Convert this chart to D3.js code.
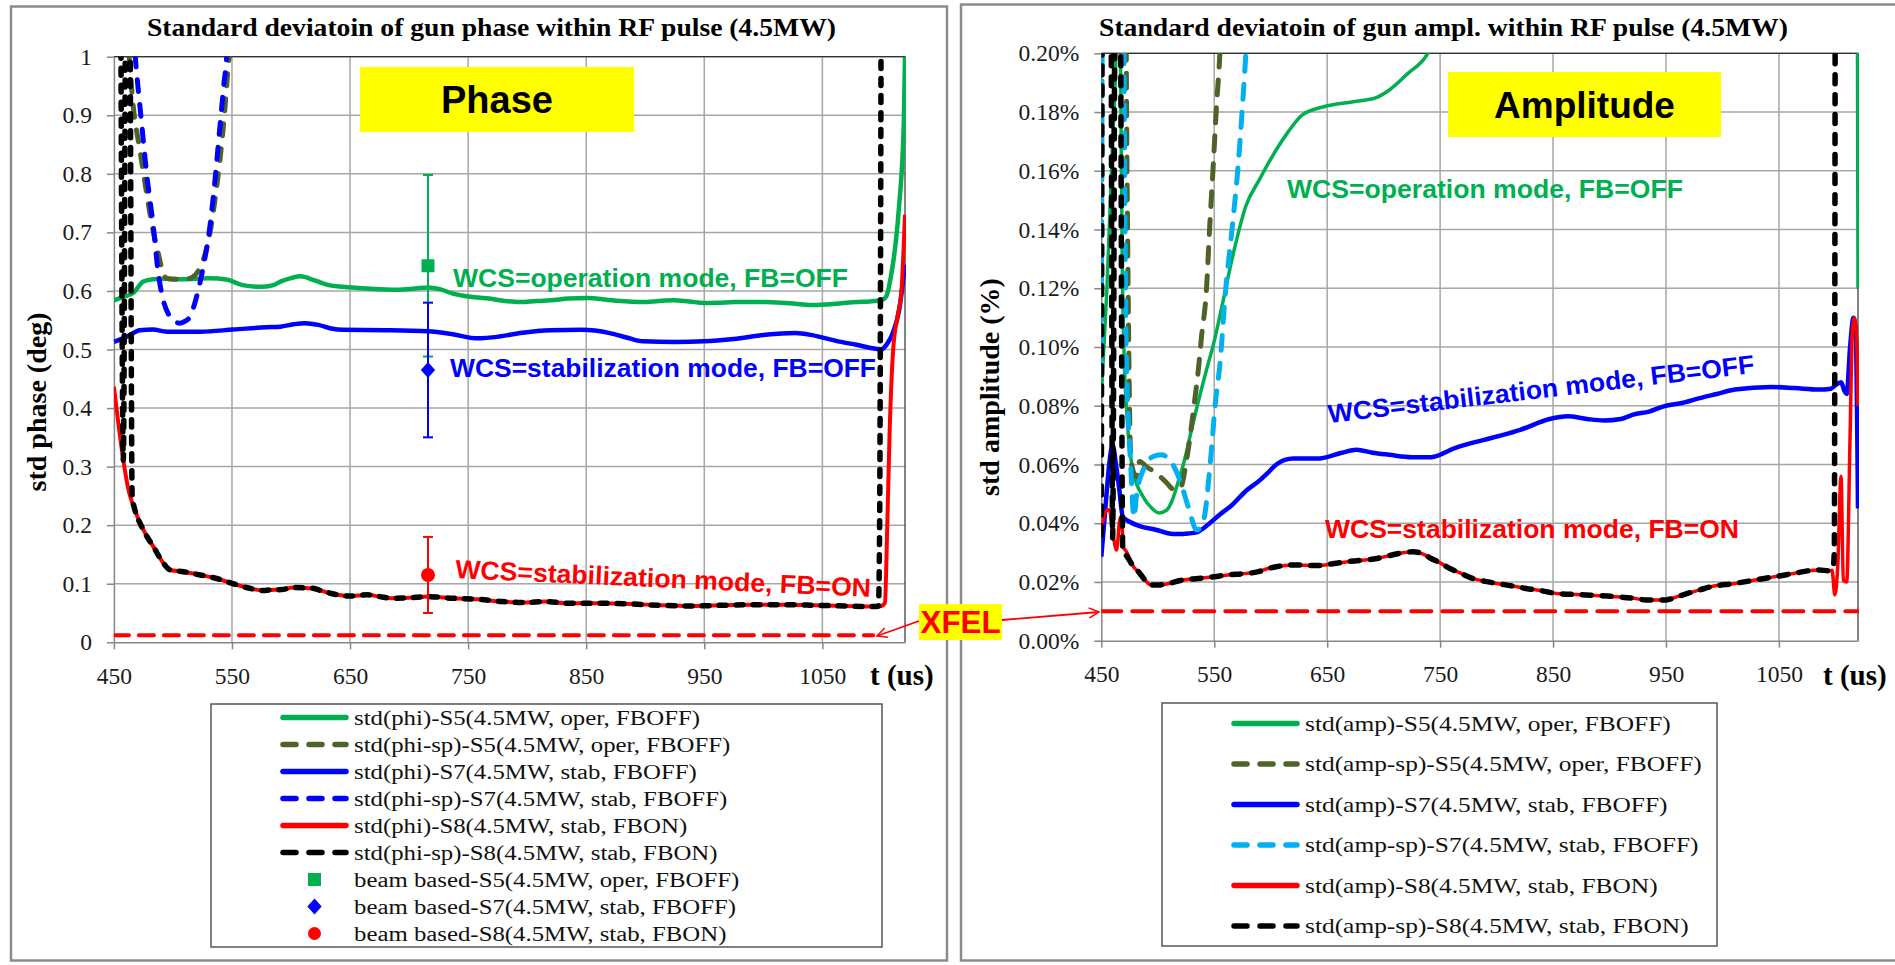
<!DOCTYPE html>
<html><head><meta charset="utf-8">
<script src="https://cdn.jsdelivr.net/npm/d3@7"></script>
<style>body{margin:0;background:#fff}svg{display:block}</style>
</head><body><svg id="c" width="1895" height="965"></svg>
<script>
// ---------------- DATA ----------------
const tTicks = [450, 550, 650, 750, 850, 950, 1050];
const tTickLabels = ["450", "550", "650", "750", "850", "950", "1050"];
const tDomain = [450, 1120];
const phaseTicks = [0, 0.1, 0.2, 0.3, 0.4, 0.5, 0.6, 0.7, 0.8, 0.9, 1];
const phaseTickLabels = ["0", "0.1", "0.2", "0.3", "0.4", "0.5", "0.6", "0.7", "0.8", "0.9", "1"];
const ampTicks = [0, 0.02, 0.04, 0.06, 0.08, 0.10, 0.12, 0.14, 0.16, 0.18, 0.20];
const ampTickLabels = ["0.00%", "0.02%", "0.04%", "0.06%", "0.08%", "0.10%", "0.12%", "0.14%", "0.16%", "0.18%", "0.20%"];

// phase (deg): [t(us), std]
const phiS5 = [[450,0.584],[458,0.59],[466,0.596],[475,0.616],[483,0.62],[495,0.621],[509,0.62],[520,0.621],[531,0.6215],[545,0.6195],[559,0.61],[574,0.607],[585,0.61],[591,0.616],[600,0.622],[608,0.625],[620,0.618],[632,0.61],[644,0.607],[665,0.604],[690,0.602],[705,0.604],[716,0.606],[726,0.603],[737,0.5955],[752,0.59],[768,0.587],[781,0.583],[794,0.581],[808,0.583],[820,0.584],[835,0.587],[851,0.588],[872,0.584],[898,0.581],[912,0.583],[924,0.584],[937,0.582],[950,0.5795],[962,0.58],[976,0.581],[1001,0.581],[1015,0.58],[1027,0.578],[1040,0.576],[1053,0.577],[1066,0.579],[1079,0.581],[1090,0.582],[1100,0.584],[1104,0.59],[1108.5,0.63],[1112,0.68],[1115,0.745],[1119,0.887],[1120,1.0]];
const phiSpS5 = [[450,1.3],[461,1.05],[466.4,0.915],[472,0.8407],[476,0.789],[482,0.7155],[487.6,0.664],[491.8,0.63],[494.6,0.6215],[500,0.62],[508.7,0.62],[515,0.622],[520,0.63],[525.7,0.653],[531.3,0.6984],[535.6,0.7553],[539.8,0.8236],[543.2,0.8919],[546.8,0.983],[550,1.05],[555,1.3]];
const phiS7 = [[450,0.513],[461,0.522],[472,0.533],[483,0.534],[495,0.5305],[523,0.5305],[551,0.534],[579,0.538],[591,0.539],[602,0.543],[612,0.545],[623,0.542],[634,0.536],[644,0.5336],[680,0.533],[716,0.531],[737,0.526],[758,0.519],[776,0.522],[794,0.528],[820,0.533],[846,0.5336],[870,0.528],[885,0.52],[898,0.514],[925,0.513],[950,0.514],[975,0.518],[1001.5,0.525],[1027,0.528],[1040,0.525],[1053,0.519],[1066,0.513],[1079,0.508],[1090,0.503],[1100,0.5005],[1105,0.51],[1110,0.53],[1115,0.567],[1120,0.645]];
const phiSpS7 = [[450,1.3],[466,1.05],[469.3,0.9716],[473.5,0.886],[477.7,0.801],[483.4,0.7097],[487.6,0.63],[491.8,0.5845],[497.5,0.556],[502,0.547],[506,0.545],[510,0.548],[514.4,0.556],[520,0.59],[525.7,0.6414],[531.3,0.7097],[535.6,0.789],[539.8,0.8805],[543.2,0.9546],[545.5,1.0],[550,1.3]];
const phiS8Core = [[509,0.1206],[523,0.115],[537,0.109],[551,0.1],[565,0.0922],[576,0.0885],[582,0.0894],[592,0.09],[602,0.0934],[610,0.093],[618,0.0922],[626,0.088],[633.5,0.0837],[649,0.079],[657,0.08],[664.6,0.081],[675,0.078],[685,0.0752],[700,0.076],[716,0.078],[737,0.0752],[758,0.0735],[778.6,0.0695],[799,0.0678],[815,0.0695],[835.6,0.0666],[861.5,0.0666],[887.5,0.0655],[913,0.0632],[939,0.062],[965,0.0632],[991,0.0643],[1017,0.0643],[1043,0.0632],[1069,0.062],[1089.6,0.061],[1096,0.061]];
const phiS8Start = [[450,0.4365],[454,0.37],[458,0.311],[462.4,0.26],[466.7,0.2316],[475,0.1918],[483.5,0.163],[492,0.135],[497.7,0.1235]];
const phiS8End = [[1100,0.062],[1103,0.067],[1105,0.2],[1107,0.36],[1110,0.5],[1114,0.56],[1117,0.6],[1120,0.73]];
const phiSpS8Start = [[455.5,1.3],[458,0.311],[460.5,1.3],[463,1.3],[465.5,0.245],[467,0.232],[475,0.1918],[483.5,0.163],[492,0.135],[497.7,0.1235]];
const phiSpS8End = [[1097.5,0.062],[1098.5,0.2],[1100,1.3]];
const phiS8 = phiS8Start.concat(phiS8Core, phiS8End);
const phiSpS8 = phiSpS8Start.concat(phiS8Core, phiSpS8End);
const xfelPhase = [[450,0.012],[1093,0.012]];

// beam based: t, value, error
const beamT = 716;
const beamVals = [0.643, 0.465, 0.115];
const beamErr = [0.155, 0.115, 0.065];

// amplitude (%): [t(us), std]
const ampS5 = [[450,0.083],[455,0.12],[460,0.17],[463,0.2],[465,0.25],[467,0.2],[468.5,0.13],[470,0.1],[473,0.075],[478,0.058],[487,0.049],[495,0.045],[501,0.0435],[508,0.0445],[513,0.048],[518,0.054],[523,0.0605],[530,0.072],[535,0.08],[543,0.092],[550,0.102],[558,0.116],[567,0.132],[578,0.148],[590,0.157],[600,0.164],[615,0.173],[628,0.179],[647,0.1818],[673,0.1835],[694,0.185],[705,0.1875],[721,0.193],[739,0.2],[750,0.21],[1119,0.3],[1120,0.12]];
const ampSpS5 = [[450,0.3],[470,0.3],[473,0.15],[476,0.063],[478,0.058],[481,0.0558],[484,0.061],[490,0.0592],[499,0.057],[508,0.0537],[515,0.0513],[520,0.052],[526,0.0627],[532,0.0797],[536.5,0.0944],[538.6,0.103],[543,0.119],[546,0.141],[549,0.161],[552,0.182],[555,0.2],[558,0.23],[565,0.3]];
const ampS7 = [[450,0.0286],[454,0.047],[457,0.06],[460,0.0667],[463,0.06],[466,0.0513],[469,0.0422],[475,0.0405],[484,0.039],[499,0.0377],[510,0.0365],[517,0.0363],[527,0.0365],[535,0.037],[546,0.04],[555,0.043],[564,0.0456],[579,0.0513],[590,0.0545],[597,0.057],[605,0.06],[620,0.062],[641,0.062],[663,0.064],[676,0.065],[690,0.064],[705,0.0633],[725,0.0625],[742,0.0625],[763,0.0656],[789,0.0684],[805,0.07],[821,0.0718],[847,0.0755],[863,0.0764],[880,0.0755],[895,0.075],[910,0.0755],[921,0.077],[935,0.078],[948,0.0798],[965,0.081],[980,0.0826],[995,0.084],[1011,0.0855],[1043,0.0864],[1064,0.086],[1085,0.0855],[1096,0.0858],[1100,0.087],[1105,0.088],[1108,0.085],[1110,0.084],[1113,0.1],[1116,0.11],[1118,0.105],[1120,0.045]];
const ampSpS7 = [[450,0.09],[452,0.3],[468,0.3],[472,0.1],[476,0.06],[479,0.042],[481,0.049],[487,0.058],[496,0.0627],[503,0.0633],[512.5,0.0605],[519.5,0.0547],[527,0.0456],[534.5,0.0377],[540.5,0.041],[546.5,0.0605],[551,0.081],[555,0.094],[560,0.119],[566,0.141],[571,0.161],[575,0.182],[578,0.2],[582,0.23]];
const ampS8Core = [[478,0.0255],[484,0.023],[489,0.0205],[494,0.019],[500,0.019],[510,0.0195],[520,0.0205],[536,0.0212],[550,0.0218],[562,0.0224],[575,0.0228],[589,0.0235],[597,0.0245],[605,0.0252],[620,0.0258],[642,0.0256],[655,0.0262],[668,0.0269],[694,0.028],[715,0.0298],[726,0.0303],[735,0.0295],[742,0.028],[750,0.0265],[758,0.0247],[768,0.023],[779,0.0212],[790,0.0202],[800,0.0195],[813,0.0187],[826,0.0178],[840,0.017],[853,0.0161],[879,0.0156],[905,0.015],[920,0.0145],[932,0.0139],[950,0.0139],[960,0.015],[969,0.0161],[980,0.0173],[990,0.0184],[1011,0.0195],[1025,0.0204],[1037,0.0212],[1050,0.022],[1064,0.023],[1085,0.0241],[1095,0.0238]];
const ampS8Start = [[450,0.0377],[454,0.044],[457,0.0446],[460.7,0.0354],[463.5,0.0309],[466.3,0.041],[468,0.0423],[469.4,0.032],[472,0.0305],[475,0.028]];
const ampS8End = [[1097,0.024],[1099.5,0.0156],[1102,0.025],[1105,0.056],[1107,0.0206],[1110,0.02],[1113,0.07],[1115,0.105],[1117,0.11],[1119,0.1],[1120,0.08]];
const ampSpS8Start = [[450,0.036],[451.5,0.3],[458,0.3],[460,0.035],[463,0.3],[466,0.3],[469,0.031],[473,0.0286]];
const ampSpS8End = [[1098,0.025],[1099,0.03],[1100,0.3]];
const ampS8 = ampS8Start.concat(ampS8Core, ampS8End);
const ampSpS8 = ampSpS8Start.concat(ampS8Core, ampSpS8End);
const xfelAmp = [[450,0.01],[1120,0.01]];

const phaseLegend = ["std(phi)-S5(4.5MW, oper, FBOFF)", "std(phi-sp)-S5(4.5MW, oper, FBOFF)", "std(phi)-S7(4.5MW, stab, FBOFF)", "std(phi-sp)-S7(4.5MW, stab, FBOFF)", "std(phi)-S8(4.5MW, stab, FBON)", "std(phi-sp)-S8(4.5MW, stab, FBON)", "beam based-S5(4.5MW, oper, FBOFF)", "beam based-S7(4.5MW, stab, FBOFF)", "beam based-S8(4.5MW, stab, FBON)"];
const ampLegend = ["std(amp)-S5(4.5MW, oper, FBOFF)", "std(amp-sp)-S5(4.5MW, oper, FBOFF)", "std(amp)-S7(4.5MW, stab, FBOFF)", "std(amp-sp)-S7(4.5MW, stab, FBOFF)", "std(amp)-S8(4.5MW, stab, FBON)", "std(amp-sp)-S8(4.5MW, stab, FBON)"];

// ---------------- STYLE ----------------
const GREEN = "#00b050", OLIVE = "#4f6228", BLUE = "#0000ff", LBLUE = "#00b0f0", RED = "#ff0000", BLACK = "#000000";
const SERIF = "'Liberation Serif','Times New Roman',serif";
const SANS = "'Liberation Sans',Arial,sans-serif";

const svg = d3.select("#c");

// panel borders
svg.append("rect").attr("x", 11).attr("y", 6.5).attr("width", 936).attr("height", 954)
  .attr("fill", "#fff").attr("stroke", "#8c8c8c").attr("stroke-width", 2.5);
svg.append("rect").attr("x", 961).attr("y", 4.5).attr("width", 940).attr("height", 956)
  .attr("fill", "#fff").attr("stroke", "#8c8c8c").attr("stroke-width", 2.5);

function drawPanel(o) {
  const g = svg.append("g");
  const x = d3.scaleLinear().domain(tDomain).range([o.x0, o.x1]);
  const y = d3.scaleLinear().domain([o.ticks[0], o.ticks[o.ticks.length - 1]]).range([o.yb, o.yt]);
  // gridlines
  g.append("g").selectAll("line").data(o.ticks.slice(1)).join("line")
    .attr("x1", o.x0).attr("x2", o.x1).attr("y1", d => y(d)).attr("y2", d => y(d))
    .attr("stroke", "#a6a6a6").attr("stroke-width", 1.5);
  g.append("g").selectAll("line").data(tTicks.slice(1)).join("line")
    .attr("x1", d => x(d)).attr("x2", d => x(d)).attr("y1", o.yt).attr("y2", o.yb)
    .attr("stroke", "#a6a6a6").attr("stroke-width", 1.5);
  // plot frame top/right
  g.append("path").attr("d", `M${o.x0},${o.yt}H${o.x1}V${o.yb}`).attr("fill", "none")
    .attr("stroke", "#333").attr("stroke-width", 1.2);
  // axes
  const ay = g.append("g").attr("transform", `translate(${o.x0},0)`)
    .call(d3.axisLeft(y).tickValues(o.ticks).tickFormat((d, i) => o.labels[i]).tickSize(7).tickPadding(15).tickSizeOuter(0));
  const ax = g.append("g").attr("transform", `translate(0,${o.yb})`)
    .call(d3.axisBottom(x).tickValues(tTicks).tickFormat((d, i) => tTickLabels[i]).tickSize(7).tickPadding(18).tickSizeOuter(0));
  [ay, ax].forEach(a => {
    a.select(".domain").attr("stroke", "#868686").attr("stroke-width", 1.5);
    a.selectAll(".tick line").attr("stroke", "#868686").attr("stroke-width", 1.5);
    a.selectAll("text").attr("font-family", SERIF).attr("font-size", 23.5).attr("fill", "#1a1a1a");
  });
  // yellow box
  g.append("rect").attr("x", o.box[0]).attr("y", o.box[1]).attr("width", o.box[2]).attr("height", o.box[3]).attr("fill", "#ffff00");
  g.append("text").attr("x", o.box[0] + o.box[2] / 2).attr("y", o.boxTextY).attr("text-anchor", "middle")
    .attr("font-family", SANS).attr("font-weight", "bold").attr("font-size", o.boxFont).text(o.boxText);
  // clip
  const cid = "clip" + o.id;
  svg.append("defs").append("clipPath").attr("id", cid).append("rect")
    .attr("x", o.x0).attr("y", o.yt).attr("width", o.x1 - o.x0 + 1).attr("height", o.yb - o.yt);
  const lg = g.append("g").attr("clip-path", `url(#${cid})`);
  const line = d3.line().x(d => x(d[0])).y(d => y(d[1])).curve(d3.curveMonotoneX);
  o.series.forEach(s => {
    lg.append("path").attr("d", line(s.data)).attr("fill", "none").attr("stroke", s.color)
      .attr("stroke-width", s.w).attr("stroke-dasharray", s.dash || null)
      .attr("stroke-linecap", s.dash ? "round" : "butt").attr("stroke-linejoin", "round");
  });
  // titles
  g.append("text").attr("x", o.titleX).attr("y", 36).attr("font-family", SERIF).attr("font-weight", "bold")
    .attr("font-size", 25).attr("textLength", 689).attr("lengthAdjust", "spacingAndGlyphs").text(o.title);
  g.append("text").attr("transform", `translate(${o.yTitleX},${o.yTitleY}) rotate(-90)`).attr("text-anchor", "middle")
    .attr("font-family", SERIF).attr("font-weight", "bold").attr("font-size", 28).text(o.yTitle);
  g.append("text").attr("x", o.tX).attr("y", 685).attr("font-family", SERIF).attr("font-weight", "bold")
    .attr("font-size", 29).text("t (us)");
  // annotations
  o.notes.forEach(n => {
    g.append("text").attr("transform", `translate(${n.x},${n.y}) rotate(${n.rot || 0})`)
      .attr("font-family", SANS).attr("font-weight", "bold").attr("font-size", 26).attr("fill", n.color)
      .attr("textLength", n.len).attr("lengthAdjust", "spacingAndGlyphs").text(n.text);
  });
  return {g, x, y, lg};
}

const P = drawPanel({
  id: "P", x0: 113.9, x1: 905, yt: 56.7, yb: 642.3, ticks: phaseTicks, labels: phaseTickLabels,
  box: [360, 67, 274, 65], boxText: "Phase", boxFont: 38, boxTextY: 113,
  title: "Standard deviatoin of gun phase within RF pulse (4.5MW)", titleX: 147,
  yTitle: "std phase (deg)", yTitleX: 46, yTitleY: 402, tX: 870,
  series: [
    {data: xfelPhase, color: RED, w: 4, dash: "15,10"},
    {data: phiS5, color: GREEN, w: 4.5},
    {data: phiS7, color: BLUE, w: 4.5},
    {data: phiSpS5, color: OLIVE, w: 5, dash: "12,13"},
    {data: phiSpS7, color: BLUE, w: 5, dash: "12,13"},
    {data: phiS8, color: RED, w: 4},
    {data: phiSpS8, color: BLACK, w: 5.5, dash: "7,10"}
  ],
  notes: [
    {text: "WCS=operation mode, FB=OFF", x: 453, y: 287, len: 395, color: GREEN},
    {text: "WCS=stabilization mode, FB=OFF", x: 450, y: 377, len: 426, color: BLUE},
    {text: "WCS=stabilization mode, FB=ON", x: 455, y: 578, len: 416, color: RED, rot: 2.6}
  ]
});

const A = drawPanel({
  id: "A", x0: 1101.3, x1: 1858, yt: 53.3, yb: 640.7, ticks: ampTicks, labels: ampTickLabels,
  box: [1448, 72, 273, 65], boxText: "Amplitude", boxFont: 37, boxTextY: 118,
  title: "Standard deviatoin of gun ampl. within RF pulse (4.5MW)", titleX: 1099,
  yTitle: "std amplitude (%)", yTitleX: 999, yTitleY: 387, tX: 1823,
  series: [
    {data: xfelAmp, color: RED, w: 4, dash: "20,11"},
    {data: ampS5, color: GREEN, w: 3.5},
    {data: ampS7, color: BLUE, w: 4.5},
    {data: ampSpS5, color: OLIVE, w: 5, dash: "15,13"},
    {data: ampSpS7, color: LBLUE, w: 5, dash: "15,13"},
    {data: ampS8, color: RED, w: 3.5},
    {data: ampSpS8, color: BLACK, w: 5.5, dash: "9,11"}
  ],
  notes: [
    {text: "WCS=operation mode, FB=OFF", x: 1287, y: 198, len: 396, color: GREEN},
    {text: "WCS=stabilization mode, FB=OFF", x: 1329, y: 423, len: 429, color: BLUE, rot: -6.7},
    {text: "WCS=stabilization mode, FB=ON", x: 1325, y: 538, len: 414, color: RED}
  ]
});

// beam based points with error bars
const beamColors = [GREEN, BLUE, RED];
const beamShapes = ["square", "diamond", "circle"];
function marker(g, shape, cx, cy, color, s) {
  if (shape === "square") g.append("rect").attr("x", cx - s / 2).attr("y", cy - s / 2).attr("width", s).attr("height", s).attr("fill", color);
  else if (shape === "diamond") g.append("path").attr("d", `M${cx},${cy - s * 0.62}L${cx + s * 0.55},${cy}L${cx},${cy + s * 0.62}L${cx - s * 0.55},${cy}Z`).attr("fill", color);
  else g.append("circle").attr("cx", cx).attr("cy", cy).attr("r", s / 2).attr("fill", color);
}
beamVals.forEach((v, i) => {
  const cx = P.x(beamT);
  const y1 = P.y(v + beamErr[i]), y2 = P.y(v - beamErr[i]);
  P.g.append("line").attr("x1", cx).attr("x2", cx).attr("y1", y1).attr("y2", y2).attr("stroke", beamColors[i]).attr("stroke-width", 2);
  [y1, y2].forEach(yy => P.g.append("line").attr("x1", cx - 5).attr("x2", cx + 5).attr("y1", yy).attr("y2", yy).attr("stroke", beamColors[i]).attr("stroke-width", 2));
});
beamVals.forEach((v, i) => marker(P.g, beamShapes[i], P.x(beamT), P.y(v), beamColors[i], i === 2 ? 14 : 13));

// XFEL label and arrows
svg.append("defs").append("marker").attr("id", "arr").attr("viewBox", "0 0 12 12").attr("refX", 11).attr("refY", 6)
  .attr("markerWidth", 12).attr("markerHeight", 12).attr("markerUnits", "userSpaceOnUse").attr("orient", "auto")
  .append("path").attr("d", "M1,1L11,6L1,11").attr("fill", "none").attr("stroke", RED).attr("stroke-width", 1.5);
svg.append("line").attr("x1", 919).attr("y1", 621).attr("x2", 877).attr("y2", 636).attr("stroke", RED).attr("stroke-width", 1.8).attr("marker-end", "url(#arr)");
svg.append("line").attr("x1", 1002).attr("y1", 620).attr("x2", 1099).attr("y2", 612).attr("stroke", RED).attr("stroke-width", 1.8).attr("marker-end", "url(#arr)");
svg.append("rect").attr("x", 919).attr("y", 604).attr("width", 83).attr("height", 36).attr("fill", "#ffff00");
svg.append("text").attr("x", 960.5).attr("y", 633).attr("text-anchor", "middle").attr("font-family", SANS)
  .attr("font-weight", "bold").attr("font-size", 32).attr("fill", RED).attr("textLength", 80).attr("lengthAdjust", "spacingAndGlyphs").text("XFEL");

// legends
function legend(o) {
  const g = svg.append("g");
  g.append("rect").attr("x", o.x).attr("y", o.y).attr("width", o.w).attr("height", o.h)
    .attr("fill", "#fff").attr("stroke", "#555").attr("stroke-width", 1.5);
  o.items.forEach((it, i) => {
    const cy = o.row0 + i * o.step;
    if (it.shape) marker(g, it.shape, (o.lx0 + o.lx1) / 2, cy, it.color, 13);
    else g.append("line").attr("x1", o.lx0).attr("x2", o.lx1).attr("y1", cy).attr("y2", cy)
      .attr("stroke", it.color).attr("stroke-width", 5.5).attr("stroke-linecap", "round")
      .attr("stroke-dasharray", it.dash ? "13,13" : null);
    g.append("text").attr("transform", `translate(${o.tx},${cy + 7}) scale(${o.sx},1)`)
      .attr("font-family", SERIF).attr("font-size", 20.5).attr("fill", "#111").text(o.labels[i]);
  });
}
legend({x: 211, y: 704, w: 671, h: 243, row0: 717.5, step: 27, lx0: 283, lx1: 346, tx: 354, sx: 1.21, labels: phaseLegend,
  items: [{color: GREEN}, {color: OLIVE, dash: 1}, {color: BLUE}, {color: BLUE, dash: 1}, {color: RED}, {color: BLACK, dash: 1},
          {color: GREEN, shape: "square"}, {color: BLUE, shape: "diamond"}, {color: RED, shape: "circle"}]});
legend({x: 1162, y: 703, w: 555, h: 243, row0: 723.5, step: 40.5, lx0: 1234, lx1: 1297, tx: 1305, sx: 1.24, labels: ampLegend,
  items: [{color: GREEN}, {color: OLIVE, dash: 1}, {color: BLUE}, {color: LBLUE, dash: 1}, {color: RED}, {color: BLACK, dash: 1}]});
</script></body></html>
